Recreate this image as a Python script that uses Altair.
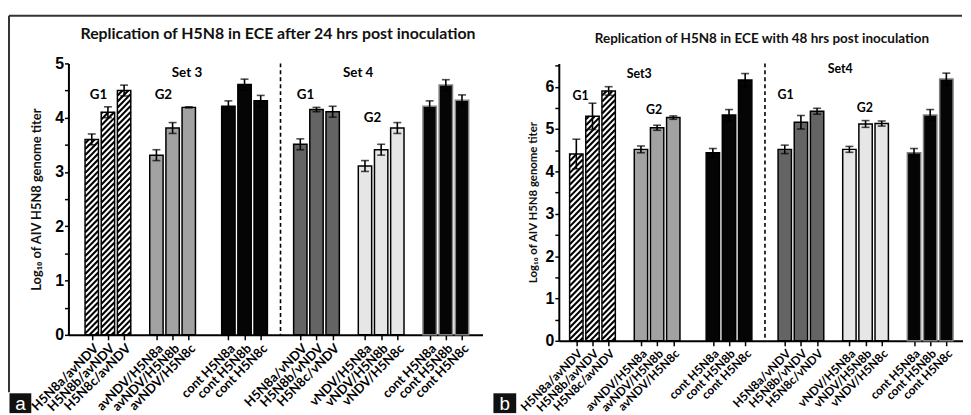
import altair as alt
import pandas as pd

# ---------------- data ----------------
labels = ["H5N8a/avNDV", "H5N8b/avNDV", "H5N8c/avNDV",
          "avNDV/H5N8a", "avNDV/H5N8b", "avNDV/H5N8c",
          "cont H5N8a", "cont H5N8b", "cont H5N8c",
          "H5N8a/vNDV", "H5N8b/vNDV", "H5N8c/vNDV",
          "vNDV/H5N8a", "vNDV/H5N8b", "vNDV/H5N8c",
          "cont H5N8a", "cont H5N8b", "cont H5N8c"]
groups = ["Set3 G1", "Set3 G2", "Set3 cont", "Set4 G1", "Set4 G2", "Set4 cont"]

values_24 = [3.60, 4.10, 4.50, 3.31, 3.81, 4.19, 4.21, 4.61, 4.31,
             3.51, 4.15, 4.11, 3.11, 3.41, 3.81, 4.21, 4.60, 4.32]
errors_24 = [0.10, 0.10, 0.10, 0.10, 0.10, 0.01, 0.10, 0.10, 0.10,
             0.10, 0.04, 0.10, 0.10, 0.10, 0.10, 0.10, 0.10, 0.10]
values_48 = [4.41, 5.30, 5.90, 4.52, 5.03, 5.27, 4.44, 5.33, 6.16,
             4.52, 5.16, 5.42, 4.52, 5.12, 5.13, 4.44, 5.33, 6.18]
errors_48 = [0.35, 0.31, 0.10, 0.08, 0.06, 0.04, 0.10, 0.13, 0.15,
             0.10, 0.16, 0.07, 0.07, 0.08, 0.06, 0.10, 0.13, 0.14]

annot_24_text = ["G1", "G2", "Set 3", "G1", "G2", "Set 4"]
annot_24_x = [0.42, 4.43, 5.89, 13.22, 17.37, 16.48]
annot_24_y = [4.42, 4.42, 4.82, 4.42, 4.00, 4.82]
annot_48_text = ["G1", "G2", "Set3", "G1", "G2", "Set4"]
annot_48_x = [0.27, 4.81, 3.89, 12.95, 17.85, 16.33]
annot_48_y = [5.77, 5.46, 6.29, 5.80, 5.50, 6.42]

title_24 = "Replication of H5N8 in ECE after 24 hrs post inoculation"
title_48 = "Replication of H5N8 in ECE with 48 hrs post inoculation"
y_title = "Log₁₀ of AIV H5N8 genome titer"

# ---------------- styles / layout ----------------
fills = ["white", "#a2a2a2", "#050505", "#646464", "#e6e6e6", "#050505"]
strokes = ["black", "black", "black", "black", "black", "#808080"]
group_offsets = [0, 4, 8.45, 12.9, 16.9, 20.9]
SLOT_PX = 16.72
BAR_PX = 13.5
LABEL_FONT = "Lato"

bar_group = [groups[i // 3] for i in range(18)]
positions = [round(group_offsets[i // 3] + i % 3, 2) for i in range(18)]
dash_x = round((group_offsets[2] + 2 + group_offsets[3]) / 2, 3)


def hatch_df(vals, ppu):
    rows = []
    hw = BAR_PX / 2 / SLOT_PX
    rise = BAR_PX / ppu
    s = 6.0 / ppu
    for p, v, g in zip(positions, vals, bar_group):
        if g != "Set3 G1":
            continue
        y0 = -rise + s * 0.5
        while y0 < v:
            ya, yb = y0, y0 + rise
            xa, xb = p - hw, p + hw
            if ya < 0:
                xa = p - hw + (-y0) / rise * 2 * hw
                ya = 0
            if yb > v:
                xb = p - hw + (v - y0) / rise * 2 * hw
                yb = v
            rows.append(dict(pos=xa, pos2=xb, value=ya, value2=yb))
            y0 += s
    return pd.DataFrame(rows)


def panel(vals, errs, ann_t, ann_x, ann_y, title, ytop, width, height,
          left_slots, tick_font, xlab_font, ytitle_font, title_font,
          ann_font, title_xy, title_pad, box, letter):
    df = pd.DataFrame({"label": labels, "value": vals, "err": errs,
                       "group": bar_group, "pos": positions})
    df["lo"] = df["value"] - df["err"]
    df["hi"] = df["value"] + df["err"]
    ppu = height / ytop
    xs = alt.Scale(domain=[-left_slots, -left_slots + width / SLOT_PX], nice=False, zero=False)
    ys = alt.Scale(domain=[0, ytop], nice=False, zero=True)
    lab_arr = "[" + ",".join("'%s'" % l for l in labels) + "]"
    pos_arr = "[" + ",".join(repr(p) for p in positions) + "]"
    x_axis = alt.Axis(values=positions, title=None, grid=False,
                      labelExpr="%s[indexof(%s, datum.value)]" % (lab_arr, pos_arr),
                      labelAngle=315, labelFont=LABEL_FONT, labelFontWeight="bold",
                      labelFontSize=xlab_font, labelPadding=2, tickSize=5,
                      labelLimit=300,
                      labelOverlap=False, labelBound=False, labelFlush=False)
    yvals = [k / 2 for k in range(int(ytop * 2) + 1)]
    y_axis = alt.Axis(values=yvals, grid=False, title=y_title,
                      labelExpr="datum.value % 1 === 0 ? format(datum.value, 'd') : ''",
                      labelFont="Liberation Sans", labelFontWeight="bold",
                      labelFontSize=tick_font, labelPadding=1, tickSize=4,
                      titleFont=LABEL_FONT, titleFontWeight="bold",
                      titleFontSize=ytitle_font, titlePadding=title_pad)

    X = lambda f: alt.X(f, scale=xs, axis=x_axis)
    Y = lambda f: alt.Y(f, scale=ys, axis=y_axis)
    base = alt.Chart(df)

    fill_layer = base.mark_bar(size=BAR_PX, strokeWidth=0).encode(
        x=X("pos:Q"), y=Y("value:Q"),
        fill=alt.Fill("group:N", scale=alt.Scale(domain=groups, range=fills), legend=None))
    hatch = alt.Chart(hatch_df(vals, ppu)).mark_rule(
        strokeWidth=2.1, color="black", strokeCap="butt").encode(
        x=X("pos:Q"), x2="pos2:Q", y=Y("value:Q"), y2="value2:Q")
    outline = base.mark_bar(size=BAR_PX, fillOpacity=0, strokeWidth=1.5).encode(
        x=X("pos:Q"), y=Y("value:Q"),
        stroke=alt.Stroke("group:N", scale=alt.Scale(domain=groups, range=strokes), legend=None))
    whisk = base.mark_rule(strokeWidth=1.6, color="black").encode(
        x=X("pos:Q"), y=Y("lo:Q"), y2="hi:Q")
    cap_hi = base.mark_tick(orient="horizontal", size=8, thickness=1.6, color="black").encode(
        x=X("pos:Q"), y=Y("hi:Q"))
    cap_lo = base.mark_tick(orient="horizontal", size=8, thickness=1.6, color="black").encode(
        x=X("pos:Q"), y=Y("lo:Q"))
    dash = alt.Chart(pd.DataFrame({"pos": [dash_x]})).mark_rule(
        strokeDash=[4, 3], strokeWidth=1.6, color="black").encode(
        x=X("pos:Q"), y=alt.value(0), y2=alt.value(height))
    ann = alt.Chart(pd.DataFrame({"t": ann_t, "pos": ann_x, "value": ann_y})).mark_text(
        font=LABEL_FONT, fontWeight="bold", fontSize=ann_font, color="black",
        baseline="middle", align="center").encode(
        x=X("pos:Q"), y=Y("value:Q"), text="t:N")
    ttl = alt.Chart(pd.DataFrame({"t": [title]})).mark_text(
        font=LABEL_FONT, fontWeight="bold", fontSize=title_font, color="#111111",
        baseline="middle", align="center").encode(
        x=alt.value(title_xy[0]), y=alt.value(title_xy[1]), text="t:N")
    bx = alt.Chart(pd.DataFrame({"t": [letter]})).mark_rect(color="#111111").encode(
        x=alt.value(box[0]), x2=alt.value(box[1]), y=alt.value(box[2]), y2=alt.value(box[3]))
    bl = alt.Chart(pd.DataFrame({"t": [letter]})).mark_text(
        font="Liberation Sans", fontSize=19, color="white", align="center",
        baseline="alphabetic").encode(
        x=alt.value((box[0] + box[1]) / 2), y=alt.value(box[3] - 3), text="t:N")
    layers = [fill_layer, hatch, outline, whisk, cap_hi, cap_lo, dash, ann, ttl, bx, bl]
    return layers


A_W, A_H = 418, 274
B_W, B_H = 408, 280

layers_a = panel(values_24, errors_24, annot_24_text, annot_24_x, annot_24_y, title_24,
                 5.0, A_W, A_H, 19 / SLOT_PX, 16, 13, 13, 16, 13.5,
                 (211.5, -30), 11, (-59.5, -37.5, 333, 353), "a")
frame = alt.Chart(pd.DataFrame({"k": ["top", "left"]})).mark_rule(
    color="#333333", strokeWidth=2)
frame_top = frame.transform_filter("datum.k == 'top'").encode(
    x=alt.value(-60), x2=alt.value(902), y=alt.value(-48), y2=alt.value(-48))
frame_left = frame.transform_filter("datum.k == 'left'").encode(
    x=alt.value(-60), x2=alt.value(-60), y=alt.value(-48), y2=alt.value(332))
panel_a = alt.layer(*layers_a, frame_top, frame_left).properties(width=A_W, height=A_H)

layers_b = panel(values_48, errors_48, annot_48_text, annot_48_x, annot_48_y, title_48,
                 6.55, B_W, B_H, 13 / SLOT_PX, 16, 12, 11.5, 13.6, 12.5,
                 (205, -25), 7, (-66, -43, 333, 353), "b")
panel_b = alt.layer(*layers_b).properties(width=B_W, height=B_H)

chart = alt.hconcat(panel_a, panel_b, spacing=77, bounds="flush").resolve_scale(
    x="independent", y="independent", fill="independent", stroke="independent"
).properties(
    padding={"left": 0, "top": 5, "right": 0, "bottom": 0}
).configure_view(stroke=None).configure_axis(
    domainColor="black", domainWidth=2, tickColor="black", tickWidth=1.5,
    labelColor="black", titleColor="#111111"
)

chart.save("out.html", embed_options={"renderer": "svg", "actions": False})
